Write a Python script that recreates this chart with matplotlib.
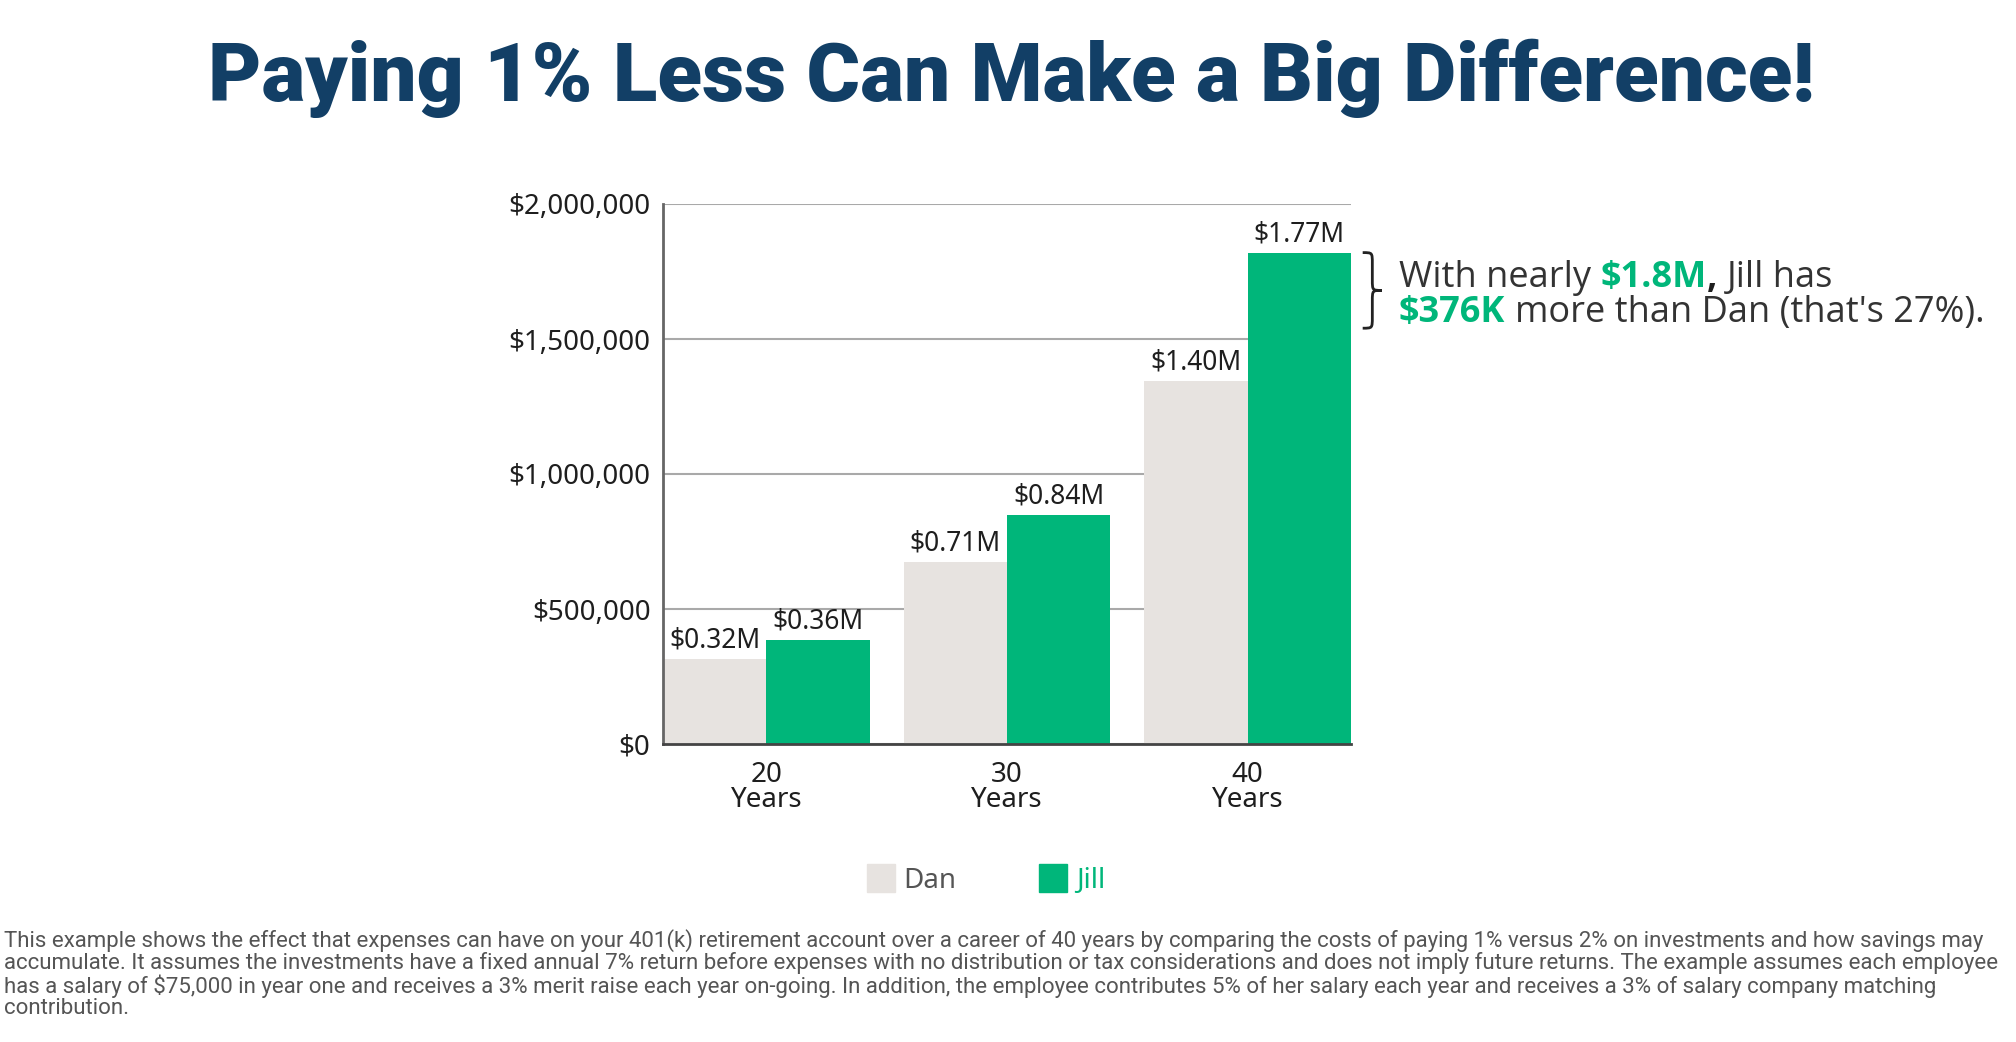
# ── IMPORTS ──────────────────────────────────────────────
import numpy as np
import matplotlib
matplotlib.use("Agg")
import matplotlib.pyplot as plt
import matplotlib.transforms as mtransforms
from matplotlib.lines import Line2D
from matplotlib.patches import PathPatch
from matplotlib.path import Path

# ── DATA ─────────────────────────────────────────────────
periods = ['20\nYears', '30\nYears', '40\nYears']
# bar heights as drawn in the picture (they differ a bit from the printed labels)
dan = [315000, 675000, 1345000]
jill = [385000, 850000, 1820000]
dan_labels = ['$0.32M', '$0.71M', '$1.40M']
jill_labels = ['$0.36M', '$0.84M', '$1.77M']
y_ticks = [0, 500000, 1000000, 1500000, 2000000]
y_tick_labels = ['$0', '$500,000', '$1,000,000', '$1,500,000', '$2,000,000']
series_names = ['Dan', 'Jill']

footnote_lines = [
    "This example shows the effect that expenses can have on your 401(k) retirement account over a career of 40 years by comparing the costs of paying 1% versus 2% on investments and how savings may",
    "accumulate. It assumes the investments have a fixed annual 7% return before expenses with no distribution or tax considerations and does not imply future returns. The example assumes each employee",
    "has a salary of $75,000 in year one and receives a 3% merit raise each year on-going. In addition, the employee contributes 5% of her salary each year and receives a 3% of salary company matching",
    "contribution.",
]

# ── COLOURS ──────────────────────────────────────────────
NAVY = '#123f66'
GREEN = '#00b67a'
GREY_BAR = '#e7e3e0'
INK = '#1e1e1e'
TEXT = '#333333'

plt.rcParams['font.family'] = ['Noto Sans', 'DejaVu Sans']

fig = plt.figure(figsize=(20.16, 10.42), dpi=100)
W, H = 2016, 1042
ax = fig.add_axes([663 / W, 1 - 744 / H, 688 / W, 540 / H])

# ── BARS ─────────────────────────────────────────────────
x = np.arange(len(periods))
w = 0.43
b_dan = ax.bar(x - w / 2, dan, w, color=GREY_BAR, zorder=2)
b_jill = ax.bar(x + w / 2, jill, w, color=GREEN, zorder=2)
ax.bar_label(b_dan, labels=dan_labels, padding=3, fontsize=19, color=INK)
ax.bar_label(b_jill, labels=jill_labels, padding=3, fontsize=19, color=INK)

# ── AXES ─────────────────────────────────────────────────
ax.set_xlim(-0.43, len(periods) - 1 + 0.43)
ax.set_ylim(0, 2000000)
ax.set_yticks(y_ticks)
ax.set_yticklabels(y_tick_labels)
ax.set_xticks(x)
ax.set_xticklabels(periods)
for lbl in ax.get_xticklabels():
    lbl.set_linespacing(0.85)

ax.yaxis.grid(True, color='#a9a9a9', lw=1.5)
ax.set_axisbelow(True)
ax.spines[['top', 'right']].set_visible(False)
ax.spines['left'].set_color('#666666')
ax.spines['left'].set_linewidth(2)
ax.spines['bottom'].set_color('#444444')
ax.spines['bottom'].set_linewidth(2)
ax.tick_params(axis='y', length=0, pad=9, labelsize=20, labelcolor=INK)
ax.tick_params(axis='x', length=0, pad=12, labelsize=20, labelcolor=INK)

# ── TITLE ────────────────────────────────────────────────
fig.text(0.5016, 1 - 78 / H, 'Paying 1% Less Can Make a Big Difference!',
         ha='center', va='center', fontsize=59, fontweight='heavy',
         color=NAVY, family=['Roboto', 'DejaVu Sans'])

# ── BRACE + CALLOUT ──────────────────────────────────────
blend = mtransforms.blended_transform_factory(ax.transAxes, ax.transData)
x0, x1 = 1.017, 1.045
xm = (x0 + x1) / 2
yt = jill[2]
yb = jill[2] - 280000
ym = (yt + yb) / 2
d = 40000
verts = [(x0, yt), (xm, yt), (xm, yt), (xm, yt - d),
         (xm, ym + d),
         (xm, ym), (xm, ym), (x1, ym),
         (xm, ym), (xm, ym), (xm, ym - d),
         (xm, yb + d),
         (xm, yb), (xm, yb), (x0, yb)]
codes = [Path.MOVETO, Path.CURVE4, Path.CURVE4, Path.CURVE4,
         Path.LINETO,
         Path.CURVE4, Path.CURVE4, Path.CURVE4,
         Path.CURVE4, Path.CURVE4, Path.CURVE4,
         Path.LINETO,
         Path.CURVE4, Path.CURVE4, Path.CURVE4]
ax.add_patch(PathPatch(Path(verts, codes), fill=False, lw=2, color='#222222',
                       transform=blend, clip_on=False))

renderer = fig.canvas.get_renderer()
callout_font = ['Open Sans', 'DejaVu Sans']
callout_size = 22


def text_width(s, weight):
    t = fig.text(0, 0, s, fontsize=callout_size, fontweight=weight, family=callout_font)
    wdt = t.get_window_extent(renderer).width
    t.remove()
    return wdt


# size the callout so the second line is as wide as in the picture (~584 px)
line2_w = (text_width('$376K', 'bold') + text_width('x x', 'normal') - text_width('xx', 'normal')
           + text_width("more than Dan (that's 27%).", 'normal'))
callout_size = callout_size * 584 / line2_w
space_w = text_width('x x', 'normal') - text_width('xx', 'normal')


def rich_line(xpix, ypix, parts):
    for txt, color, weight, gap in parts:
        t = fig.text(xpix / W, 1 - ypix / H, txt, color=color, fontweight=weight,
                     fontsize=callout_size, family=callout_font, ha='left', va='center')
        xpix += t.get_window_extent(renderer).width + (space_w if gap else 0)


rich_line(1399, 278, [('With nearly', TEXT, 'normal', True),
                      ('$1.8M', GREEN, 'bold', False),
                      (',', INK, 'bold', True),
                      ('Jill has', TEXT, 'normal', False)])
rich_line(1399, 313, [('$376K', GREEN, 'bold', True),
                      ("more than Dan (that's 27%).", TEXT, 'normal', False)])

# ── LEGEND ───────────────────────────────────────────────
handles = [Line2D([], [], marker='s', ls='', ms=20, color=c) for c in [GREY_BAR, GREEN]]
fig.legend(handles, series_names, loc='center', bbox_to_anchor=(986 / W, 1 - 881 / H),
           ncol=2, frameon=False, fontsize=20, labelcolor=['#555555', GREEN],
           handlelength=1.0, handletextpad=0.3, columnspacing=3.0)

# ── FOOTNOTE ─────────────────────────────────────────────
foot_font = ['Roboto', 'DejaVu Sans']
probe = fig.text(0, 0, footnote_lines[1], fontsize=13, family=foot_font)
foot_size = 13 * 1999 / probe.get_window_extent(renderer).width
probe.remove()
for i, line in enumerate(footnote_lines):
    fig.text(4 / W, 1 - (941 + 22.5 * i) / H, line, ha='left', va='center',
             fontsize=foot_size, color='#555555', family=foot_font)

fig.savefig('out.png', dpi=100)
